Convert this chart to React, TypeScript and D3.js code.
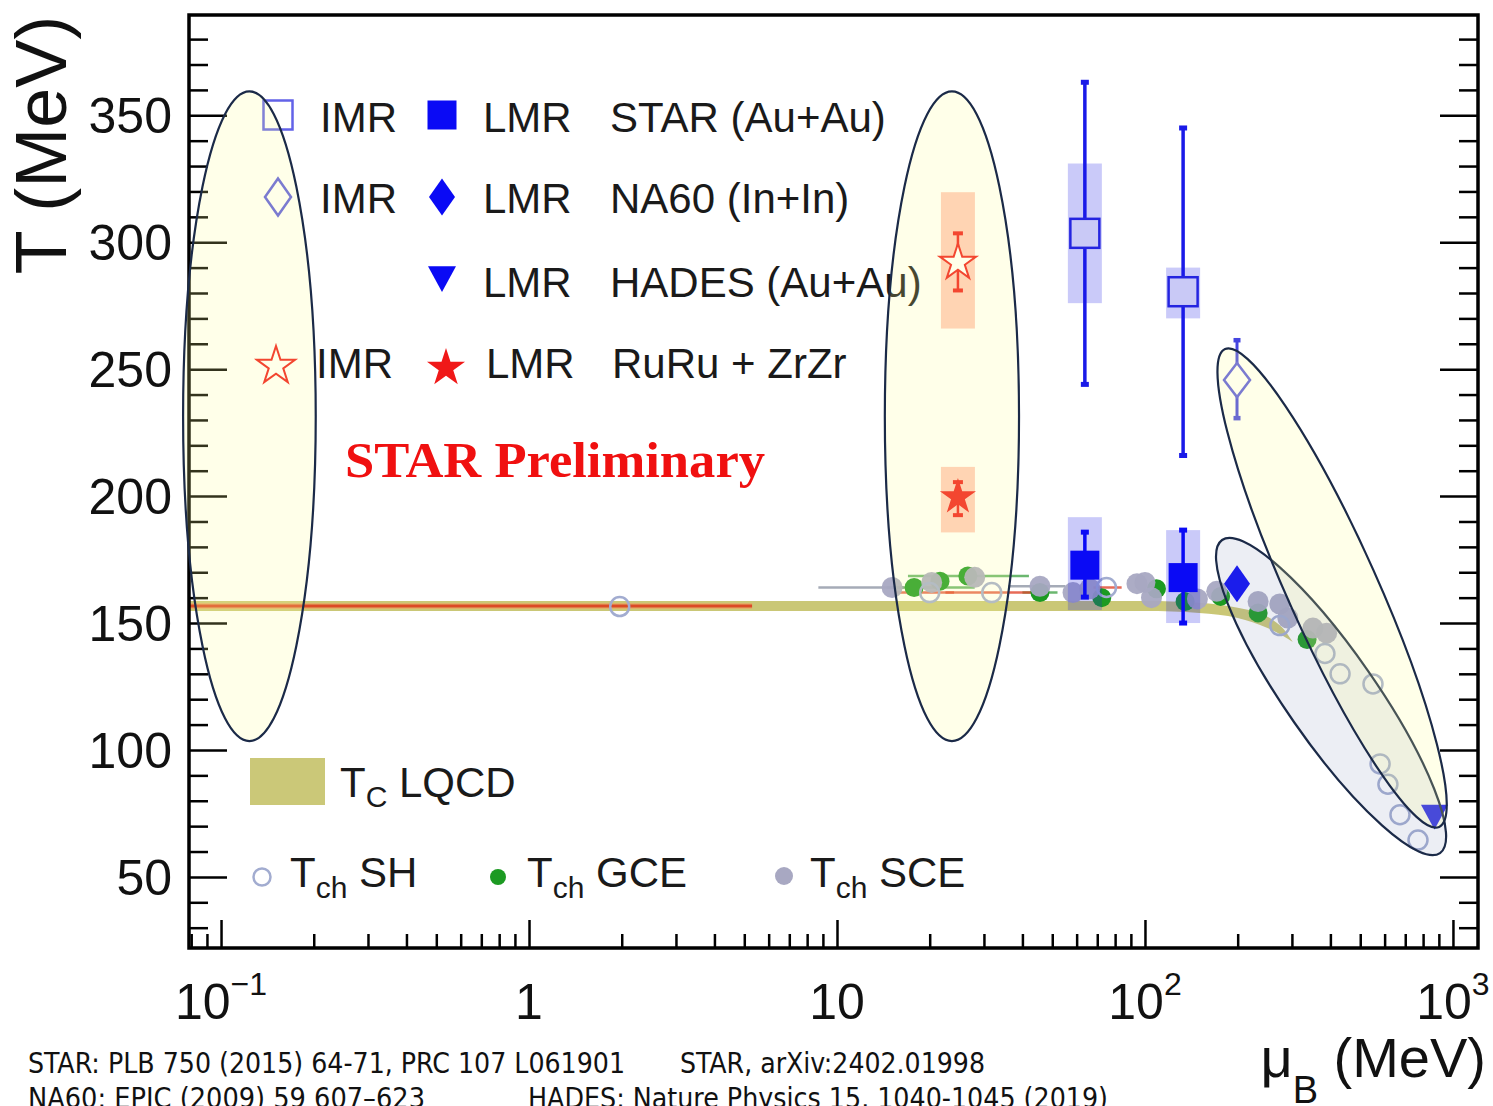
import React, { useEffect, useRef } from "react";
import * as d3 from "d3";

const W = 1493;
const H = 1106;

// axes
const MU_DOMAIN = [0.0787, 1206];
const T_DOMAIN = [22, 389.5];
const Y_TICKS = [50, 100, 150, 200, 250, 300, 350];
const Y_MINOR = d3.range(30, 390, 10).filter(v => v % 50 !== 0);
const X_TICKS = [0.1, 1, 10, 100, 1000];
const X_LABELS = [["10", "−1"], ["1", ""], ["10", ""], ["10", "2"], ["10", "3"]];

// Tc from lattice QCD (band)
const LQCD_MU = [0.0787, 100, 150, 200, 250, 280, 302];
const LQCD_HI = [158.7, 158.7, 158, 156, 152.5, 148, 142.5];
const LQCD_LO = [154.7, 154.7, 154, 152, 148, 145, 142.5];
const LQCD_LINE_MU = [0.0787, 5.3];
const LQCD_LINE_T = 156.7;

// chemical freeze-out, statistical hadronization
const SH_MU = [1.97, 20, 31.8, 75, 274, 384, 430, 550, 580, 615, 673, 770];
const SH_T = [156.5, 162, 162, 164, 149, 138, 130, 126, 94.5, 86.5, 74.5, 64.5];
const SH_ERR = [null, [15.5, 24], [22.5, 45], [68, 84], null, null, null, null, null, null, null, null];

// grand canonical
const GCE_MU = [17.8, 21.6, 26.6, 45.6, 72.4, 109, 135, 176, 233, 336];
const GCE_T = [164, 166.5, 168.5, 162, 160, 163.5, 158.5, 160.5, 154, 143.5];
const GCE_ERR = [[14.5, 28], null, [17, 42], [40, 52], null, null, null, null, null, null];

// strangeness canonical
const SCE_MU = [15.1, 20.3, 28, 45.6, 58.4, 66.2, 94.2, 100, 105, 148, 171, 233, 274, 291, 351, 389];
const SCE_T = [164, 166, 168, 164.5, 162, 163.5, 165.5, 166, 160, 159.5, 162.5, 158.5, 157.5, 152, 148, 146];
const SCE_ERR = [[8.7, 16.5], null, null, [36, 55], null, null, null, null, null, null, null, null, null, null, null, null];

// STAR Au+Au
const STAR_MU = [63.8, 133];
const STAR_IMR_T = [303.5, 280.5];
const STAR_IMR_STAT = [[244, 363], [216, 345]];
const STAR_IMR_SYS = [[276, 331], [270, 290]];
const STAR_LMR_T = [172.8, 167.9];
const STAR_LMR_STAT = [[160.2, 185.8], [150, 186.6]];
const STAR_LMR_SYS = [[155.1, 191.7], [150, 186.6]];

// NA60 In+In
const NA60_MU = 199;
const NA60_IMR_T = 245.7;
const NA60_IMR_STAT = [230.7, 261.4];
const NA60_LMR_T = 165.5;

// HADES Au+Au
const HADES_MU = 871;
const HADES_LMR_T = 74;

// RuRu + ZrZr
const RU_MU = 24.7;
const RU_IMR_T = 292;
const RU_IMR_STAT = [281, 303.5];
const RU_IMR_SYS = [266, 319.7];
const RU_LMR_T = 199.6;
const RU_LMR_STAT = [192.5, 205.5];
const RU_LMR_SYS = [185.7, 211.5];

// highlight ellipses: [muLeft, muRight, tBottom, tTop]
const UPRIGHT_ELLIPSES = [
  [0.0753, 0.203, 103.5, 359.4],
  [14.3, 39, 103.5, 359.4],
];
// tilted: [mu1, t1, mu2, t2]
const TILTED_ELLIPSES = [
  { ends: [178, 182.7, 908, 59.4], fill: "#8090b8", op: 0.15 },
  { ends: [182, 257.9, 902, 69.7], fill: "#ffff90", op: 0.2 },
];

const FOOTNOTES = [
  "STAR: PLB 750 (2015) 64-71, PRC 107 L061901",
  "STAR, arXiv:2402.01998",
  "NA60: EPJC (2009) 59 607–623",
  "HADES: Nature Physics 15, 1040-1045 (2019)",
];

const SANS = "'Liberation Sans', Arial, Helvetica, sans-serif";
const BLUE = "#0a0af5";
const RED = "#f01818";
const GREEN = "#1c9a22";
const GREY = "#a8a8c2";
const SHC = "#a2acd0";

export default function App() {
  const ref = useRef(null);

  useEffect(() => {
    const svg = d3.select(ref.current);
    svg.selectAll("*").remove();

    const x = d3.scaleLog().domain(MU_DOMAIN).range([189, 1478]);
    const y = d3.scaleLinear().domain(T_DOMAIN).range([948, 15]);
    const [x0, x1] = x.range();
    const [yb, yt] = y.range();

    svg.append("rect").attr("width", W).attr("height", H).attr("fill", "#fff");

    svg.append("clipPath").attr("id", "plot")
      .append("rect").attr("x", x0).attr("y", yt).attr("width", x1 - x0).attr("height", yb - yt);
    const plot = svg.append("g").attr("clip-path", "url(#plot)");

    // helpers
    const square = (g, cx, cy, s, fill, stroke, sw = 2.5) =>
      g.append("rect").attr("x", cx - s / 2).attr("y", cy - s / 2).attr("width", s).attr("height", s)
        .attr("fill", fill).attr("stroke", stroke).attr("stroke-width", sw);
    const diamond = (g, cx, cy, w, h, fill, stroke, sw = 2.5) =>
      g.append("path")
        .attr("d", `M${cx},${cy - h / 2}L${cx + w / 2},${cy}L${cx},${cy + h / 2}L${cx - w / 2},${cy}Z`)
        .attr("fill", fill).attr("stroke", stroke).attr("stroke-width", sw);
    const triDown = (g, cx, cy, w, fill) =>
      g.append("path")
        .attr("d", `M${cx - w / 2},${cy - w * 0.42}L${cx + w / 2},${cy - w * 0.42}L${cx},${cy + w * 0.5}Z`)
        .attr("fill", fill);
    const star = (g, cx, cy, R, fill, stroke, sw = 2) =>
      g.append("path").attr("d", d3.symbol(d3.symbolStar, (R * R) / 0.8908)())
        .attr("transform", `translate(${cx},${cy})`)
        .attr("fill", fill).attr("stroke", stroke).attr("stroke-width", sw);
    const vErr = (g, cx, lo, hi, color, sw, cap) => {
      g.append("line").attr("x1", cx).attr("x2", cx).attr("y1", y(lo)).attr("y2", y(hi))
        .attr("stroke", color).attr("stroke-width", sw);
      [lo, hi].forEach(v => g.append("line").attr("x1", cx - cap / 2).attr("x2", cx + cap / 2)
        .attr("y1", y(v)).attr("y2", y(v)).attr("stroke", color).attr("stroke-width", sw + 1.5));
    };
    const sysBox = (g, cx, lo, hi, fill, op) =>
      g.append("rect").attr("x", cx - 17).attr("y", y(hi)).attr("width", 34).attr("height", y(lo) - y(hi))
        .attr("fill", fill).attr("opacity", op);

    // LQCD band
    const band = d3.area()
      .x((_, i) => x(LQCD_MU[i]))
      .y0((_, i) => y(LQCD_LO[i]))
      .y1((_, i) => y(LQCD_HI[i]))
      .curve(d3.curveMonotoneX);
    plot.append("path").attr("d", band(LQCD_MU)).attr("fill", "#c6c26a").attr("opacity", 0.92);
    plot.append("line")
      .attr("x1", x(LQCD_LINE_MU[0])).attr("x2", x(LQCD_LINE_MU[1]))
      .attr("y1", y(LQCD_LINE_T)).attr("y2", y(LQCD_LINE_T))
      .attr("stroke", "#f0a060").attr("stroke-width", 6).attr("opacity", 0.6);
    plot.append("line")
      .attr("x1", x(LQCD_LINE_MU[0])).attr("x2", x(LQCD_LINE_MU[1]))
      .attr("y1", y(LQCD_LINE_T)).attr("y2", y(LQCD_LINE_T))
      .attr("stroke", "#dc4a26").attr("stroke-width", 3);

    // Tch horizontal errors
    const hErr = (mus, ts, errs, color) => errs.forEach((e, i) => {
      if (!e) return;
      plot.append("line").attr("x1", x(e[0])).attr("x2", x(e[1]))
        .attr("y1", y(ts[i])).attr("y2", y(ts[i]))
        .attr("stroke", color).attr("stroke-width", 2.5).attr("opacity", 0.75);
    });
    hErr(GCE_MU, GCE_T, GCE_ERR, "#3aa040");
    hErr(SCE_MU, SCE_T, SCE_ERR, "#8890a0");
    hErr(SH_MU, SH_T, SH_ERR, "#e03a20");

    plot.append("g").selectAll("circle").data(GCE_MU).join("circle")
      .attr("cx", d => x(d)).attr("cy", (_, i) => y(GCE_T[i])).attr("r", 9.5).attr("fill", GREEN);
    plot.append("g").selectAll("circle").data(SCE_MU).join("circle")
      .attr("cx", d => x(d)).attr("cy", (_, i) => y(SCE_T[i])).attr("r", 10.5).attr("fill", GREY).attr("opacity", 0.95);
    plot.append("g").selectAll("circle").data(SH_MU).join("circle")
      .attr("cx", d => x(d)).attr("cy", (_, i) => y(SH_T[i])).attr("r", 9.5)
      .attr("fill", "none").attr("stroke", SHC).attr("stroke-width", 2.5);

    // STAR
    STAR_MU.forEach((mu, i) => {
      const cx = x(mu);
      sysBox(plot, cx, STAR_IMR_SYS[i][0], STAR_IMR_SYS[i][1], "#2020e8", 0.24);
      sysBox(plot, cx, STAR_LMR_SYS[i][0], STAR_LMR_SYS[i][1], "#2020e8", 0.24);
      vErr(plot, cx, STAR_IMR_STAT[i][0], STAR_IMR_STAT[i][1], "#1a1ae8", 3.5, 8);
      vErr(plot, cx, STAR_LMR_STAT[i][0], STAR_LMR_STAT[i][1], BLUE, 3.5, 8);
      square(plot, cx, y(STAR_IMR_T[i]), 29, "#c9c9f6", "#2424e0");
      square(plot, cx, y(STAR_LMR_T[i]), 29, BLUE, "none", 0);
    });

    // NA60
    vErr(plot, x(NA60_MU), NA60_IMR_STAT[0], NA60_IMR_STAT[1], "#4545e0", 3, 7);
    diamond(plot, x(NA60_MU), y(NA60_IMR_T), 26, 34, "#fff", "#5a5ae0");
    diamond(plot, x(NA60_MU), y(NA60_LMR_T), 26, 37, BLUE, "none", 0);

    // HADES
    triDown(plot, x(HADES_MU), y(HADES_LMR_T), 27, BLUE);

    // RuRu + ZrZr
    sysBox(plot, x(RU_MU), RU_IMR_SYS[0], RU_IMR_SYS[1], "#ff5a30", 0.32);
    sysBox(plot, x(RU_MU), RU_LMR_SYS[0], RU_LMR_SYS[1], "#ff5a30", 0.32);
    vErr(plot, x(RU_MU), RU_IMR_STAT[0], RU_IMR_STAT[1], RED, 2.5, 10);
    vErr(plot, x(RU_MU), RU_LMR_STAT[0], RU_LMR_STAT[1], RED, 2.5, 10);
    star(plot, x(RU_MU), y(RU_IMR_T), 19, "#fff", RED, 2);
    star(plot, x(RU_MU), y(RU_LMR_T), 19, RED, "none", 0);

    // frame and ticks
    const ax = svg.append("g").attr("stroke-width", 2.5);
    const noLabel = () => "";
    const strip = g => { g.select(".domain").remove(); g.selectAll("line").attr("stroke-width", 2.5); };
    ax.append("g").attr("transform", `translate(${x0},0)`)
      .call(d3.axisLeft(y).tickValues(Y_TICKS).tickSize(-38).tickFormat(noLabel)).call(strip);
    ax.append("g").attr("transform", `translate(${x0},0)`)
      .call(d3.axisLeft(y).tickValues(Y_MINOR).tickSize(-19).tickFormat(noLabel)).call(strip);
    ax.append("g").attr("transform", `translate(${x1},0)`)
      .call(d3.axisRight(y).tickValues(Y_TICKS).tickSize(-38).tickFormat(noLabel)).call(strip);
    ax.append("g").attr("transform", `translate(${x1},0)`)
      .call(d3.axisRight(y).tickValues(Y_MINOR).tickSize(-19).tickFormat(noLabel)).call(strip);
    const xMinor = x.ticks().filter(v => !X_TICKS.some(t => Math.abs(t - v) < 1e-9));
    ax.append("g").attr("transform", `translate(0,${yb})`)
      .call(d3.axisBottom(x).tickValues(X_TICKS).tickSize(-28).tickFormat(noLabel)).call(strip);
    ax.append("g").attr("transform", `translate(0,${yb})`)
      .call(d3.axisBottom(x).tickValues(xMinor).tickSize(-14).tickFormat(noLabel)).call(strip);
    svg.append("rect").attr("x", x0).attr("y", yt).attr("width", x1 - x0).attr("height", yb - yt)
      .attr("fill", "none").attr("stroke", "#000").attr("stroke-width", 3.5);

    // tick labels
    svg.append("g").selectAll("text").data(Y_TICKS).join("text")
      .attr("x", 172).attr("y", d => y(d) + 18).attr("text-anchor", "end")
      .attr("font-family", SANS).attr("font-size", 50).attr("fill", "#111").text(d => d);
    X_TICKS.forEach((v, i) => {
      const t = svg.append("text").attr("x", x(v)).attr("y", 1019).attr("text-anchor", "middle")
        .attr("font-family", SANS).attr("font-size", 50).attr("fill", "#111");
      t.append("tspan").text(X_LABELS[i][0]);
      if (X_LABELS[i][1]) t.append("tspan").attr("dy", -24).attr("font-size", 32).text(X_LABELS[i][1]);
    });

    // axis titles
    svg.append("text").attr("transform", "translate(66,145) rotate(-90)").attr("text-anchor", "middle")
      .attr("font-family", SANS).attr("font-size", 72).attr("fill", "#111").text("T (MeV)");
    const xt = svg.append("text").attr("x", 1486).attr("y", 1077).attr("text-anchor", "end")
      .attr("font-family", SANS).attr("font-size", 56).attr("fill", "#111");
    xt.append("tspan").text("μ");
    xt.append("tspan").attr("dy", 26).attr("font-size", 38).text("B");
    xt.append("tspan").attr("dy", -26).text(" (MeV)");

    // legend
    const lg = svg.append("g").attr("font-family", SANS).attr("font-size", 42).attr("fill", "#1a1a1a");
    const label = (tx, ty, s) => lg.append("text").attr("x", tx).attr("y", ty).text(s);
    square(lg, 278, 115, 29, "#fff", "#6262e8");
    label(320, 132, "IMR");
    square(lg, 442, 115, 29, BLUE, "none", 0);
    label(483, 132, "LMR");
    label(610, 132, "STAR (Au+Au)");
    diamond(lg, 278, 197, 26, 37, "#fff", "#5a5ae0");
    label(320, 213, "IMR");
    diamond(lg, 442, 197, 26, 37, BLUE, "none", 0);
    label(483, 213, "LMR");
    label(610, 213, "NA60 (In+In)");
    triDown(lg, 442, 278, 28, BLUE);
    label(483, 297, "LMR");
    label(610, 297, "HADES (Au+Au)");
    star(lg, 276, 366, 20, "#fff", RED, 2);
    label(316, 378, "IMR");
    star(lg, 446, 368, 20, RED, "none", 0);
    label(486, 378, "LMR");
    label(612, 378, "RuRu + ZrZr");

    svg.append("text").attr("x", 345).attr("y", 477).attr("font-family", "'Liberation Serif', 'Times New Roman', serif")
      .attr("font-weight", "bold").attr("font-size", 50).attr("fill", "#f01010")
      .attr("textLength", 420).attr("lengthAdjust", "spacingAndGlyphs").text("STAR Preliminary");

    lg.append("rect").attr("x", 250).attr("y", 758).attr("width", 75).attr("height", 47).attr("fill", "#cbc878");
    const tc = lg.append("text").attr("x", 340).attr("y", 797);
    tc.append("tspan").text("T");
    tc.append("tspan").attr("dy", 10).attr("font-size", 30).text("C");
    tc.append("tspan").attr("dy", -10).text(" LQCD");

    const tch = (tx, name) => {
      const t = lg.append("text").attr("x", tx).attr("y", 887);
      t.append("tspan").text("T");
      t.append("tspan").attr("dy", 11).attr("font-size", 30).text("ch");
      t.append("tspan").attr("dy", -11).text(" " + name);
    };
    lg.append("circle").attr("cx", 262).attr("cy", 877).attr("r", 8.5).attr("fill", "none")
      .attr("stroke", SHC).attr("stroke-width", 2.5);
    tch(290, "SH");
    lg.append("circle").attr("cx", 498).attr("cy", 877).attr("r", 8).attr("fill", GREEN);
    tch(527, "GCE");
    lg.append("circle").attr("cx", 784).attr("cy", 876).attr("r", 9).attr("fill", GREY);
    tch(810, "SCE");

    // highlight ellipses (overlay)
    const ov = svg.append("g");
    UPRIGHT_ELLIPSES.forEach(([m0, m1, t0, t1]) => {
      ov.append("ellipse")
        .attr("cx", (x(m0) + x(m1)) / 2).attr("cy", (y(t0) + y(t1)) / 2)
        .attr("rx", (x(m1) - x(m0)) / 2).attr("ry", (y(t0) - y(t1)) / 2)
        .attr("fill", "#ffff90").attr("fill-opacity", 0.2)
        .attr("stroke", "#1b2a48").attr("stroke-width", 2.2);
    });
    TILTED_ELLIPSES.forEach(({ ends: [m0, t0, m1, t1], fill, op }) => {
      const ax0 = x(m0), ay0 = y(t0), ax1 = x(m1), ay1 = y(t1);
      const len = Math.hypot(ax1 - ax0, ay1 - ay0);
      const ang = (Math.atan2(ay1 - ay0, ax1 - ax0) * 180) / Math.PI;
      ov.append("ellipse")
        .attr("transform", `translate(${(ax0 + ax1) / 2},${(ay0 + ay1) / 2}) rotate(${ang})`)
        .attr("rx", len / 2).attr("ry", 45)
        .attr("fill", fill).attr("fill-opacity", op)
        .attr("stroke", "#1b2a48").attr("stroke-width", 2.2);
    });

    // references
    const fn = svg.append("g").attr("font-family", "'Liberation Sans Narrow', 'DejaVu Sans Condensed', sans-serif")
      .attr("font-size", 28).attr("fill", "#111");
    const foot = (tx, ty, len, s) => fn.append("text").attr("x", tx).attr("y", ty)
      .attr("textLength", len).attr("lengthAdjust", "spacingAndGlyphs").text(s);
    foot(28, 1073, 597, FOOTNOTES[0]);
    foot(680, 1073, 305, FOOTNOTES[1]);
    foot(28, 1108, 397, FOOTNOTES[2]);
    foot(528, 1108, 580, FOOTNOTES[3]);
  }, []);

  return (
    <div style={{ position: "absolute", left: 0, top: 0 }}>
      <svg ref={ref} width={W} height={H} style={{ display: "block" }} />
    </div>
  );
}
